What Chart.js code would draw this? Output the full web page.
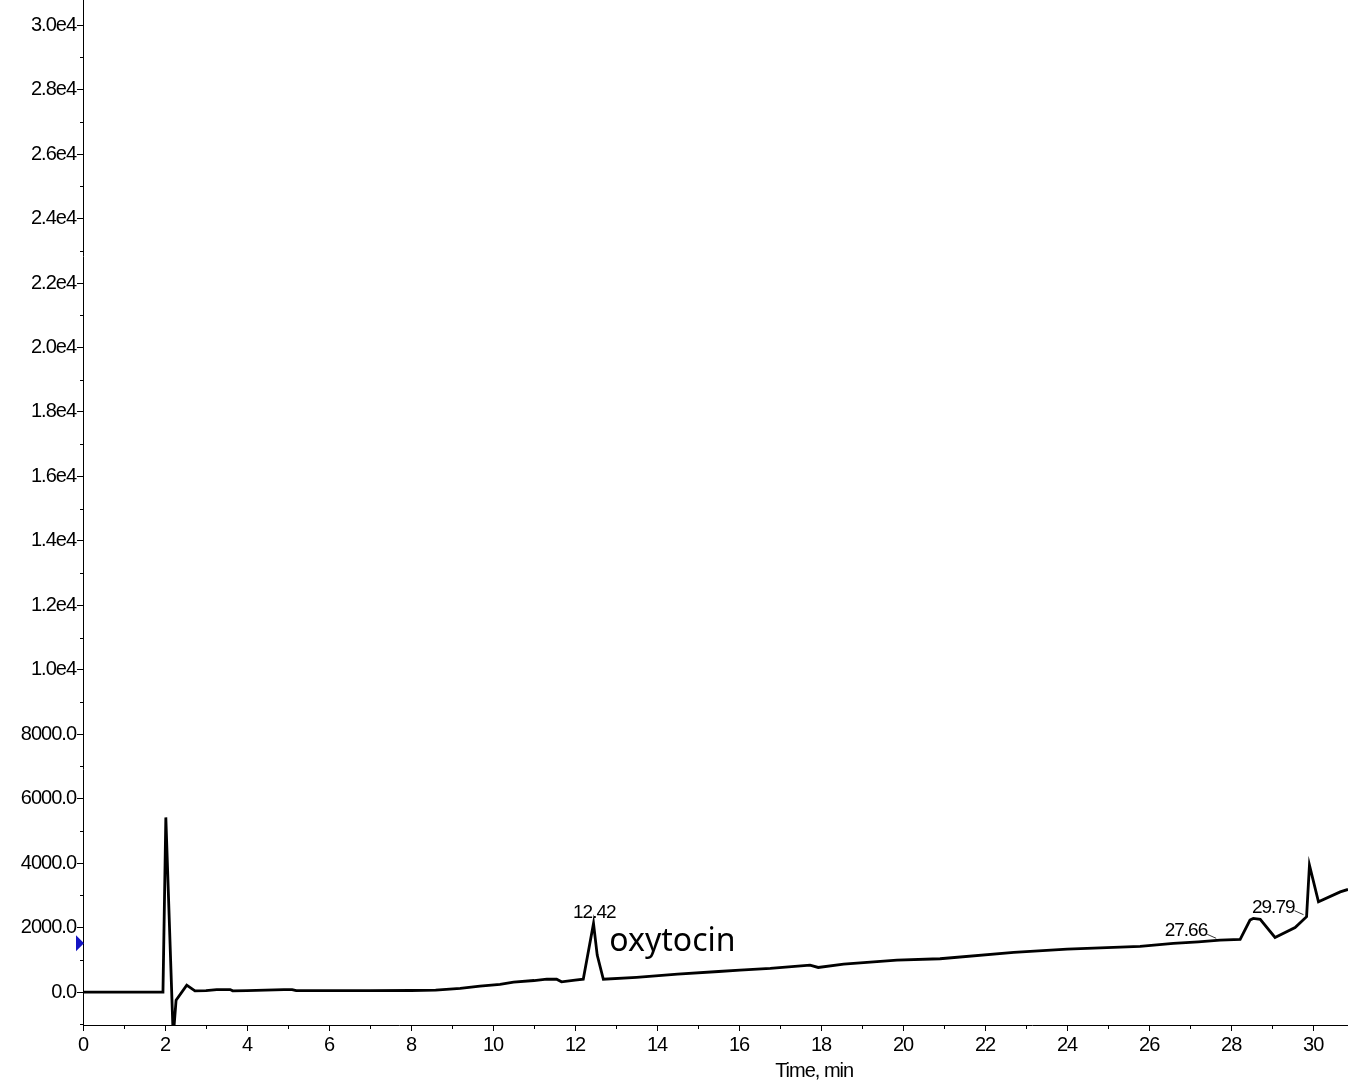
<!DOCTYPE html>
<html><head><meta charset="utf-8">
<script src="https://cdn.jsdelivr.net/npm/chart.js@4/dist/chart.umd.min.js"></script>
<style>html,body{margin:0;padding:0;background:#fff;overflow:hidden}canvas{display:block}</style>
</head><body>
<canvas id="c" width="1348" height="1081"></canvas>
<script>
// ---- data ----
const timeMin = [0, 1.0, 1.95, 2.02, 2.20, 2.27, 2.53, 2.73, 3.0, 3.26, 3.59, 3.65, 4.0, 4.9, 5.1, 5.2, 6.0, 7.0, 8.0, 8.6, 9.2, 9.68, 10.17, 10.5, 11.0, 11.31, 11.55, 11.67, 12.0, 12.2, 12.45, 12.54, 12.69, 13.5, 14.5, 15.5, 16.02, 16.76, 17.73, 17.93, 18.55, 19.85, 20.9, 22.7, 24.0, 25.78, 26.59, 27.2, 27.73, 28.22, 28.46, 28.54, 28.71, 29.07, 29.56, 29.84, 29.91, 30.13, 30.66, 30.85];
const intensity = [0, 0, 0, 5420, -1400, -250, 217, 40, 45, 80, 80, 40, 45, 80, 80, 45, 45, 45, 50, 60, 115, 185, 240, 310, 360, 400, 400, 320, 370, 400, 2130, 1150, 400, 460, 560, 640, 680, 735, 840, 765, 870, 990, 1035, 1230, 1335, 1420, 1510, 1560, 1615, 1635, 2235, 2285, 2260, 1695, 2005, 2340, 3940, 2800, 3110, 3185];
const xTickValues = [0, 2, 4, 6, 8, 10, 12, 14, 16, 18, 20, 22, 24, 26, 28, 30];
const xTickLabels = ['0', '2', '4', '6', '8', '10', '12', '14', '16', '18', '20', '22', '24', '26', '28', '30'];
const yTickValues = [0, 2000, 4000, 6000, 8000, 10000, 12000, 14000, 16000, 18000, 20000, 22000, 24000, 26000, 28000, 30000];
const yTickLabels = ['0.0', '2000.0', '4000.0', '6000.0', '8000.0', '1.0e4', '1.2e4', '1.4e4', '1.6e4', '1.8e4', '2.0e4', '2.2e4', '2.4e4', '2.6e4', '2.8e4', '3.0e4'];
const peakTimes = [12.42, 27.66, 29.79];
const peakLabels = ['12.42', '27.66', '29.79'];
const compoundName = 'oxytocin';
const compoundPeak = 12.42;
const markerLevel = 1520;
const xRange = [0, 30.85];
const yRange = [-1020, 30780];
const xTitle = 'Time, min';

// ---- helpers ----
function valueAt(t) {
  let best = null;
  for (let i = 0; i < timeMin.length; i++) {
    if (Math.abs(timeMin[i] - t) <= 0.06) best = best === null ? intensity[i] : Math.max(best, intensity[i]);
  }
  for (let i = 0; i < timeMin.length - 1; i++) {
    if (timeMin[i] <= t && t <= timeMin[i + 1]) {
      const f = (t - timeMin[i]) / (timeMin[i + 1] - timeMin[i]);
      const v = intensity[i] + f * (intensity[i + 1] - intensity[i]);
      best = best === null ? v : Math.max(best, v);
    }
  }
  return best;
}
const ARIAL = '"Liberation Sans", Arial, sans-serif';
const SPACING = '-1px';

const spacingPlugin = {
  id: 'spacing',
  beforeUpdate(chart) { chart.ctx.letterSpacing = SPACING; },
  beforeDraw(chart) { chart.ctx.letterSpacing = SPACING; }
};

const extrasPlugin = {
  id: 'extras',
  afterDraw(chart) {
    const ctx = chart.ctx, xs = chart.scales.x, ys = chart.scales.y, ca = chart.chartArea;
    ctx.save();
    ctx.strokeStyle = '#000';
    ctx.lineWidth = 1;
    // minor ticks
    ctx.beginPath();
    for (let v = -1000; v <= 31000; v += 1000) {
      if (v % 2000 === 0) continue;
      if (v < ys.min || v > ys.max) continue;
      const y = Math.round(ys.getPixelForValue(v)) + 0.5;
      ctx.moveTo(ca.left - 3, y); ctx.lineTo(ca.left, y);
    }
    for (let t = 1; t <= xs.max; t += 2) {
      const x = Math.round(xs.getPixelForValue(t)) + 0.5;
      ctx.moveTo(x, ca.bottom); ctx.lineTo(x, ca.bottom + 4);
    }
    ctx.stroke();

    // peak labels
    ctx.fillStyle = '#000';
    ctx.letterSpacing = SPACING;
    ctx.font = '19px ' + ARIAL;
    peakTimes.forEach((t, i) => {
      const px = xs.getPixelForValue(t);
      const py = ys.getPixelForValue(valueAt(t));
      if (t === compoundPeak) {
        ctx.textAlign = 'center'; ctx.textBaseline = 'alphabetic';
        ctx.fillText(peakLabels[i], px + 2, py - 5);
      } else {
        ctx.textAlign = 'right'; ctx.textBaseline = 'alphabetic';
        ctx.fillText(peakLabels[i], px - 10, py - 4);
        ctx.beginPath();
        ctx.lineWidth = 0.8;
        ctx.moveTo(px - 10, py - 6); ctx.lineTo(px - 1, py - 2);
        ctx.stroke();
      }
    });

    // compound name
    ctx.letterSpacing = '0px';
    ctx.font = '32px "Noto Sans", "Open Sans", sans-serif';
    ctx.textAlign = 'left'; ctx.textBaseline = 'alphabetic';
    const cpx = xs.getPixelForValue(compoundPeak);
    const cpy = ys.getPixelForValue(valueAt(compoundPeak));
    ctx.fillText(compoundName, cpx + 17, cpy + 28);

    // axis title
    ctx.letterSpacing = SPACING;
    ctx.font = '20px ' + ARIAL;
    ctx.textAlign = 'center';
    ctx.fillText(xTitle, ca.left + (ca.right - ca.left) * 0.578, ca.bottom + 52);

    // blue level marker
    const my = ys.getPixelForValue(markerLevel);
    ctx.fillStyle = '#1414c4';
    ctx.beginPath();
    ctx.moveTo(ca.left - 7, my - 8);
    ctx.lineTo(ca.left + 1, my);
    ctx.lineTo(ca.left - 7, my + 8);
    ctx.closePath();
    ctx.fill();
    ctx.restore();
  }
};

new Chart(document.getElementById('c'), {
  type: 'line',
  data: {
    datasets: [{
      data: timeMin.map((t, i) => ({ x: t, y: intensity[i] })),
      borderColor: '#000',
      borderWidth: 2.8,
      pointRadius: 0,
      tension: 0,
      fill: false
    }]
  },
  options: {
    responsive: false,
    animation: false,
    events: [],
    layout: { padding: 0 },
    plugins: { legend: { display: false }, tooltip: { enabled: false } },
    scales: {
      x: {
        type: 'linear',
        min: xRange[0], max: xRange[1],
        grid: { display: true, drawOnChartArea: false, drawTicks: true, tickLength: 6, color: '#000', tickColor: '#000' },
        border: { display: true, color: '#000', width: 1 },
        ticks: {
          color: '#000', font: { family: ARIAL, size: 20 }, padding: 2, maxRotation: 0, autoSkip: false,
          callback: (v) => { const i = xTickValues.indexOf(v); return i >= 0 ? xTickLabels[i] : ''; }
        },
        afterBuildTicks: (s) => { s.ticks = xTickValues.map(v => ({ value: v })); },
        afterFit: (s) => { s.height = 56; s.paddingLeft = 0; s.paddingRight = 0; }
      },
      y: {
        type: 'linear',
        min: yRange[0], max: yRange[1],
        grid: { display: true, drawOnChartArea: false, drawTicks: true, tickLength: 6, color: '#000', tickColor: '#000' },
        border: { display: true, color: '#000', width: 1 },
        ticks: {
          color: '#000', font: { family: ARIAL, size: 20 }, padding: 1, autoSkip: false,
          callback: (v) => { const i = yTickValues.indexOf(v); return i >= 0 ? yTickLabels[i] : ''; }
        },
        afterBuildTicks: (s) => { s.ticks = yTickValues.map(v => ({ value: v })); },
        afterFit: (s) => { s.width = 83; s.paddingTop = 0; s.paddingBottom = 0; }
      }
    }
  },
  plugins: [spacingPlugin, extrasPlugin]
});
</script>
</body></html>
